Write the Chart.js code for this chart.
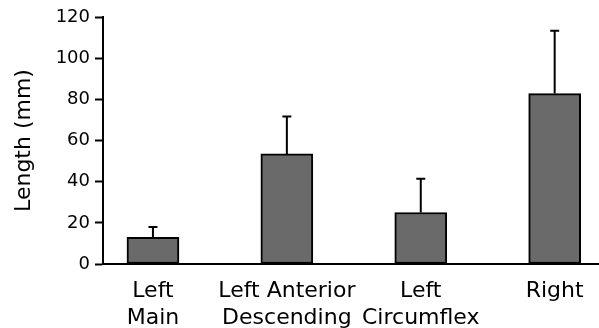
<!DOCTYPE html>
<html>
<head>
<meta charset="utf-8">
<script src="https://cdn.jsdelivr.net/npm/chart.js@4"></script>
<style>
  html, body { margin: 0; padding: 0; background: #ffffff; }
  #wrap { width: 599px; height: 328px; position: relative; }
</style>
</head>
<body>
<div id="wrap"><canvas id="c" width="599" height="328"></canvas></div>
<script>
const categories = [["Left", "Main"], ["Left Anterior", "Descending"], ["Left", "Circumflex"], ["Right"]];
const meanLength = [13.0, 53.5, 25.0, 82.8];
const sdLength = [5.0, 18.1, 16.4, 30.5];
const yTicks = [0, 20, 40, 60, 80, 100, 120];

const errorBars = {
  id: 'errorBars',
  afterDatasetsDraw(chart) {
    const ctx = chart.ctx;
    const xs = chart.scales.x, ys = chart.scales.y;
    ctx.save();
    ctx.strokeStyle = '#000';
    ctx.lineWidth = 2;
    meanLength.forEach((m, i) => {
      const x = xs.getPixelForValue(i);
      const y0 = ys.getPixelForValue(m);
      const y1 = ys.getPixelForValue(m + sdLength[i]);
      ctx.beginPath();
      ctx.moveTo(x, y0);
      ctx.lineTo(x, y1);
      ctx.moveTo(x - 4.5, y1);
      ctx.lineTo(x + 4.5, y1);
      ctx.stroke();
    });
    ctx.restore();
  }
};

new Chart(document.getElementById('c'), {
  type: 'bar',
  data: {
    datasets: [{
      data: meanLength.map((v, i) => ({ x: i, y: v })),
      backgroundColor: '#6a6a6a',
      borderColor: '#000',
      borderWidth: 2,
      borderSkipped: false,
      barThickness: 52
    }]
  },
  options: {
    responsive: false,
    animation: false,
    layout: { padding: { top: 17, right: 0, left: 0, bottom: 0 } },
    plugins: { legend: { display: false }, tooltip: { enabled: false } },
    scales: {
      x: {
        type: 'linear',
        offset: false,
        min: -0.373,
        max: 3.331,
        afterFit(s) { s.height = 64; },
        grid: { display: false, drawTicks: false, offset: false },
        border: { display: true, color: '#000', width: 2 },
        afterBuildTicks(s) { s.ticks = categories.map((c, i) => ({ value: i })); },
        ticks: {
          autoSkip: false,
          maxRotation: 0,
          padding: 14,
          color: '#000',
          font: { family: 'DejaVu Sans', size: 22, lineHeight: 1.23 },
          callback: (v) => categories[v]
        }
      },
      y: {
        min: 0,
        max: 120,
        afterFit(s) { s.width = 103; },
        afterBuildTicks(s) { s.ticks = yTicks.map(v => ({ value: v })); },
        grid: { drawOnChartArea: false, drawTicks: true, tickLength: 8, tickWidth: 2, tickColor: '#000' },
        border: { display: true, color: '#000', width: 2 },
        ticks: {
          padding: 5,
          color: '#000',
          font: { family: 'DejaVu Sans', size: 18 }
        },
        title: {
          display: true,
          text: 'Length (mm)',
          color: '#000',
          font: { family: 'DejaVu Sans', size: 22 },
          padding: { top: 11, bottom: 0 }
        }
      }
    }
  },
  plugins: [errorBars]
});
</script>
</body>
</html>
